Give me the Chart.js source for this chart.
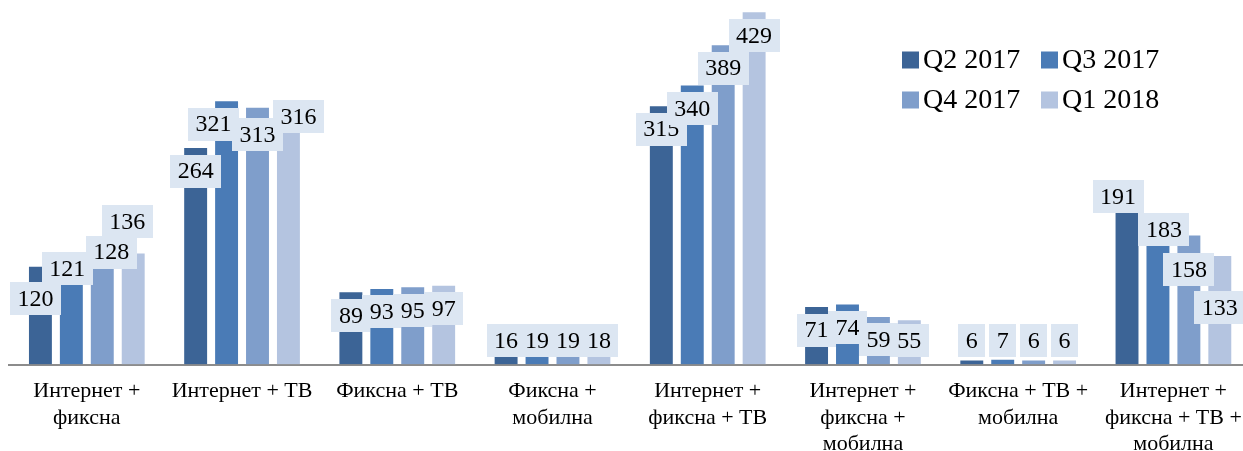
<!DOCTYPE html>
<html>
<head>
<meta charset="utf-8">
<script src="https://cdn.jsdelivr.net/npm/chart.js@4.4.1/dist/chart.umd.min.js"></script>
<style>
  html, body { margin: 0; padding: 0; background: #ffffff; overflow: hidden; }
  #wrap { width: 1243px; height: 451px; overflow: hidden; position: relative; }
  canvas { display: block; }
</style>
</head>
<body>
<div id="wrap"><canvas id="c" width="1256" height="451" style="width:1256px;height:451px"></canvas></div>
<script>
// ---- data ----
const categories = [
  ["Интернет +", "фиксна"],
  "Интернет + ТВ",
  "Фиксна + ТВ",
  ["Фиксна +", "мобилна"],
  ["Интернет +", "фиксна + ТВ"],
  ["Интернет +", "фиксна +", "мобилна"],
  ["Фиксна + ТВ +", "мобилна"],
  ["Интернет +", "фиксна + ТВ +", "мобилна"]
];
const seriesNames = ["Q2 2017", "Q3 2017", "Q4 2017", "Q1 2018"];
const q2_2017 = [120, 264, 89, 16, 315, 71, 6, 191];
const q3_2017 = [121, 321, 93, 19, 340, 74, 7, 183];
const q4_2017 = [128, 313, 95, 19, 389, 59, 6, 158];
const q1_2018 = [136, 316, 97, 18, 429, 55, 6, 133];

// ---- styles ----
const seriesColors = ["#3C6496", "#4A7BB6", "#7F9ECB", "#B4C4E0"];
const labelBoxColor = "#DCE6F2";
const FONT = "'Liberation Serif', 'Times New Roman', serif";
// manual label nudges (dx, dy in px) relative to the default "inside end" spot
const labelNudge = [
  [[-5, 9], [0, 0], [0, 0], [0, 0], [0, 0], [0, 0], [0, 0], [-9, -35]],
  [[-4, -20], [-13, 0], [0, 0], [0, 0], [0, 0], [0, 0], [0, 0], [6, -8]],
  [[9, -31], [0, 4], [0, 0], [0, 0], [0, 0], [0, 0], [0, 0], [0, 11]],
  [[-6, -55], [10, -12], [0, 0], [0, 0], [0, 0], [0, 0], [0, 0], [0, 29]]
];

const seriesValues = [q2_2017, q3_2017, q4_2017, q1_2018];

const labelPlugin = {
  id: 'boxLabels',
  afterDatasetsDraw(chart) {
    const ctx = chart.ctx;
    const axisY = chart.scales.y.getPixelForValue(0);
    ctx.save();
    ctx.font = "24px " + FONT;
    ctx.textAlign = 'center';
    ctx.textBaseline = 'middle';
    chart.data.datasets.forEach((ds, di) => {
      const meta = chart.getDatasetMeta(di);
      meta.data.forEach((bar, i) => {
        const txt = String(ds.data[i]);
        const w = ctx.measureText(txt).width + 15;
        const h = 33;
        let cy = Math.min(bar.y + 24, axisY - 7.5 - h / 2);
        let cx = bar.x;
        const n = labelNudge[di][i];
        cx += n[0]; cy += n[1];
        ctx.fillStyle = labelBoxColor;
        ctx.fillRect(Math.round(cx - w / 2), Math.round(cy - h / 2), Math.round(w), h);
        ctx.fillStyle = '#000000';
        ctx.fillText(txt, cx, cy + 1);
      });
    });
    ctx.restore();
  }
};

const legendPlugin = {
  id: 'gridLegend',
  afterDraw(chart) {
    const ctx = chart.ctx;
    ctx.save();
    ctx.font = "28px " + FONT;
    ctx.textAlign = 'left';
    ctx.textBaseline = 'middle';
    const colX = [902, 1041];
    const rowY = [60, 100];
    chart.data.datasets.forEach((ds, di) => {
      const x = colX[di % 2], y = rowY[Math.floor(di / 2)];
      ctx.fillStyle = ds.backgroundColor;
      ctx.fillRect(x, y - 8.5, 17, 17);
      ctx.fillStyle = '#000000';
      ctx.fillText(ds.label, x + 21, y + 1);
    });
    ctx.restore();
  }
};

new Chart(document.getElementById('c'), {
  type: 'bar',
  data: {
    labels: categories,
    datasets: seriesNames.map((name, k) => ({
      label: name,
      data: seriesValues[k],
      backgroundColor: seriesColors[k],
      borderColor: 'rgba(255,255,255,0.25)',
      borderWidth: 1,
      categoryPercentage: 0.797,
      barPercentage: 0.806
    }))
  },
  options: {
    responsive: false,
    animation: false,
    devicePixelRatio: 1,
    layout: { padding: { left: 9.2, right: 2.2, top: 2.2, bottom: 0 } },
    plugins: {
      legend: { display: false },
      tooltip: { enabled: false }
    },
    scales: {
      x: {
        grid: { display: false, drawTicks: false },
        border: { display: true, color: '#8C8C8C', width: 2 },
        ticks: {
          color: '#000000',
          font: { family: FONT, size: 22, lineHeight: 1.2 },
          padding: 14,
          maxRotation: 0,
          autoSkip: false
        },
        afterFit(scale) { scale.height = 451 - 364.5; }
      },
      y: {
        display: false,
        min: 0,
        max: 440,
        grid: { display: false }
      }
    }
  },
  plugins: [labelPlugin, legendPlugin]
});
</script>
</body>
</html>
